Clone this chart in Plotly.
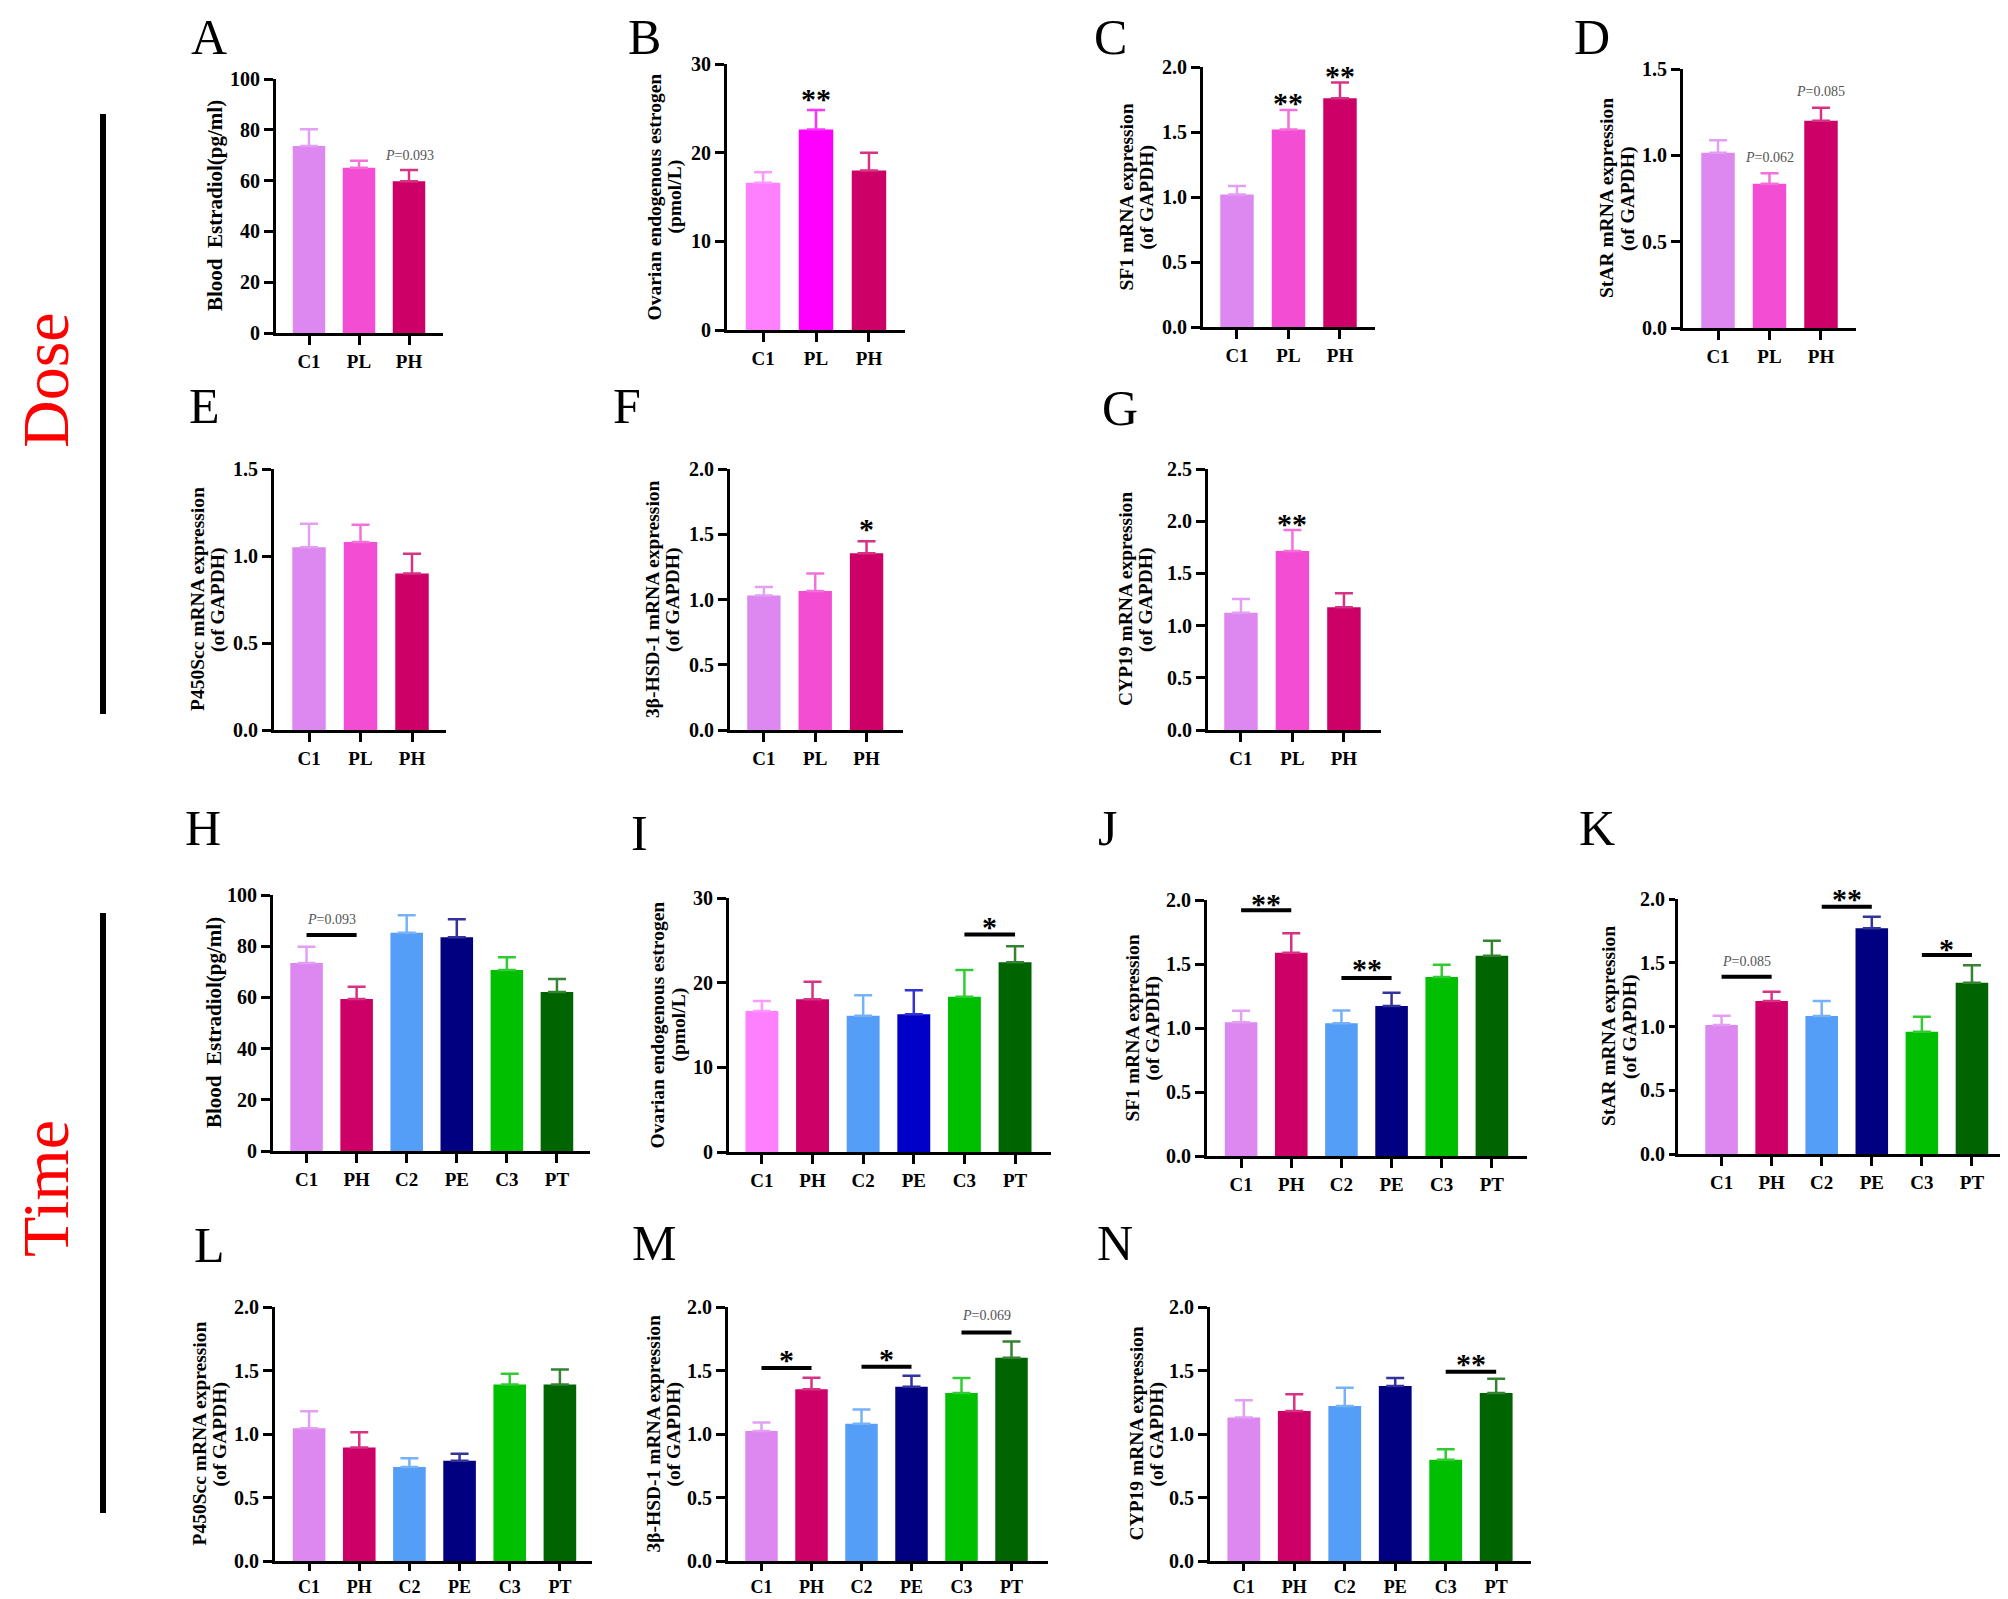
import plotly.graph_objects as go

W, H = 2008, 1599
OFF = 8  # page body margin of the written html, compensated in positioning
FONT = "Liberation Serif"

# ---------------- data ----------------
dose_cats = ["C1", "PL", "PH"]
time_cats = ["C1", "PH", "C2", "PE", "C3", "PT"]

A_mean = [73.6, 65.1, 59.7]
A_err = [6.6, 2.7, 4.5]
B_mean = [16.6, 22.6, 18.0]
B_err = [1.2, 2.2, 2.0]
C_mean = [1.02, 1.52, 1.76]
C_err = [0.065, 0.15, 0.12]
D_mean = [1.015, 0.836, 1.20]
D_err = [0.072, 0.06, 0.076]
E_mean = [1.05, 1.08, 0.90]
E_err = [0.135, 0.10, 0.113]
F_mean = [1.03, 1.065, 1.354]
F_err = [0.066, 0.135, 0.092]
G_mean = [1.124, 1.715, 1.175]
G_err = [0.131, 0.20, 0.134]
H_mean = [73.4, 59.4, 85.3, 83.5, 70.7, 62.1]
H_err = [6.4, 4.8, 6.8, 7.0, 5.0, 5.1]
I_mean = [16.65, 18.03, 16.1, 16.26, 18.35, 22.4]
I_err = [1.18, 2.07, 2.4, 2.84, 3.15, 1.9]
J_mean = [1.045, 1.588, 1.037, 1.172, 1.398, 1.565]
J_err = [0.09, 0.152, 0.10, 0.104, 0.097, 0.117]
K_mean = [1.012, 1.20, 1.082, 1.77, 0.959, 1.344]
K_err = [0.073, 0.073, 0.118, 0.091, 0.118, 0.136]
L_mean = [1.045, 0.893, 0.74, 0.789, 1.39, 1.39]
L_err = [0.135, 0.12, 0.07, 0.055, 0.084, 0.118]
M_mean = [1.023, 1.352, 1.08, 1.372, 1.323, 1.60]
M_err = [0.068, 0.091, 0.113, 0.087, 0.117, 0.129]
N_mean = [1.13, 1.182, 1.221, 1.377, 0.797, 1.323]
N_err = [0.136, 0.131, 0.144, 0.063, 0.083, 0.112]

# significance marks: (from index, to index, line y, label, label y)
A_sig = [(2, 2, None, "<i>P</i>=0.093", 70)]
B_sig = [(1, 1, None, "**", 26.8)]
C_sig = [(1, 1, None, "**", 1.77), (2, 2, None, "**", 1.98)]
D_sig = [(1, 1, None, "<i>P</i>=0.062", 0.99), (2, 2, None, "<i>P</i>=0.085", 1.37)]
E_sig = []
F_sig = [(2, 2, None, "*", 1.59)]
G_sig = [(1, 1, None, "**", 2.04)]
H_sig = [(0, 1, 84.4, "<i>P</i>=0.093", 90.6)]
I_sig = [(4, 5, 25.7, "*", 27.4)]
J_sig = [(0, 1, 1.92, "**", 2.02), (2, 3, 1.39, "**", 1.51)]
K_sig = [(0, 1, 1.39, "<i>P</i>=0.085", 1.51), (2, 3, 1.94, "**", 2.05), (4, 5, 1.56, "*", 1.66)]
L_sig = []
M_sig = [(0, 1, 1.52, "*", 1.63), (2, 3, 1.53, "*", 1.64), (4, 5, 1.80, "<i>P</i>=0.069", 1.93)]
N_sig = [(4, 5, 1.49, "**", 1.60)]

t_blood = ["Blood\u00a0 Estradiol(pg/ml)"]
t_ovar = ["Ovarian endogenous estrogen", "(pmol/L)"]
t_sf1 = ["SF1 mRNA expression", "(of GAPDH)"]
t_star = ["StAR mRNA expression", "(of GAPDH)"]
t_p450 = ["P450Scc mRNA expression", "(of GAPDH)"]
t_hsd = ["3β-HSD-1 mRNA expression", "(of GAPDH)"]
t_cyp = ["CYP19 mRNA expression", "(of GAPDH)"]

# ---------------- styles ----------------
dose_colors = ["#DD88F0", "#F34DD3", "#CC0066"]
B_colors = ["#FF80FF", "#FF00FF", "#CC0066"]
time_colors = ["#DD88F0", "#CC0066", "#559EF7", "#000080", "#00BF00", "#006400"]
I_colors = ["#FF80FF", "#CC0066", "#559EF7", "#0000C8", "#00BF00", "#006400"]


def tint(hexc, f=0.2):
    r, g, b = int(hexc[1:3], 16), int(hexc[3:5], 16), int(hexc[5:7], 16)
    r, g, b = [int(v + (255 - v) * f) for v in (r, g, b)]
    return "#%02X%02X%02X" % (r, g, b)


def PX(px):
    return (px - OFF) / W


def PY(py):
    return 1 - (py - OFF) / H


# letter, cats, mean, err, colors, title, title size, yrange, dtick, fmt, sig,
# box (x0, x1, ytop, ybot in px), xrange, title offset, letter pos (cx, baseline), y ticklen
panels = [
    ("A", dose_cats, A_mean, A_err, dose_colors, t_blood, 21, [0, 100], 20, "d", A_sig,
     (276, 443, 79, 333), [-0.66, 2.68], 61, (209, 54), 9),
    ("B", dose_cats, B_mean, B_err, B_colors, t_ovar, 19.5, [0, 30], 10, "d", B_sig,
     (727, 905, 64, 330), [-0.68, 2.68], 63, (644, 54), 9),
    ("C", dose_cats, C_mean, C_err, dose_colors, t_sf1, 19.5, [0, 2], 0.5, ".1f", C_sig,
     (1203, 1375, 67, 327), [-0.66, 2.68], 67, (1110, 54), 9),
    ("D", dose_cats, D_mean, D_err, dose_colors, t_star, 19.5, [0, 1.5], 0.5, ".1f", D_sig,
     (1683, 1856, 69, 328), [-0.68, 2.68], 66, (1592, 54), 9),
    ("E", dose_cats, E_mean, E_err, dose_colors, t_p450, 19.5, [0, 1.5], 0.5, ".1f", E_sig,
     (274, 446, 469, 730), [-0.68, 2.66], 66, (204, 423), 9),
    ("F", dose_cats, F_mean, F_err, dose_colors, t_hsd, 19.5, [0, 2], 0.5, ".1f", F_sig,
     (730, 903, 469, 730), [-0.66, 2.71], 67, (627, 423), 9),
    ("G", dose_cats, G_mean, G_err, dose_colors, t_cyp, 19.5, [0, 2.5], 0.5, ".1f", G_sig,
     (1208, 1381, 469, 730), [-0.64, 2.72], 72, (1120, 425), 9),
    ("H", time_cats, H_mean, H_err, time_colors, t_blood, 21, [0, 100], 20, "d", H_sig,
     (273, 590, 895, 1151), [-0.67, 5.66], 59, (203, 845), 9),
    ("I", time_cats, I_mean, I_err, I_colors, t_ovar, 19.5, [0, 30], 10, "d", I_sig,
     (729, 1051, 898, 1152), [-0.65, 5.71], 61, (639, 850), 9),
    ("J", time_cats, J_mean, J_err, time_colors, t_sf1, 19.5, [0, 2], 0.5, ".1f", J_sig,
     (1207, 1527, 900, 1156), [-0.68, 5.70], 65, (1107, 845), 9),
    ("K", time_cats, K_mean, K_err, time_colors, t_star, 19.5, [0, 2], 0.5, ".1f", K_sig,
     (1678, 2006, 899, 1154), [-0.87, 5.68], 59, (1597, 845), 6),
    ("L", time_cats, L_mean, L_err, time_colors, t_p450, 19.5, [0, 2], 0.5, ".1f", L_sig,
     (275, 592, 1307, 1561), [-0.68, 5.64], 66, (209, 1262), 9),
    ("M", time_cats, M_mean, M_err, time_colors, t_hsd, 19.5, [0, 2], 0.5, ".1f", M_sig,
     (728, 1048, 1307, 1561), [-0.67, 5.73], 65, (654, 1260), 9),
    ("N", time_cats, N_mean, N_err, time_colors, t_cyp, 19.5, [0, 2], 0.5, ".1f", N_sig,
     (1210, 1531, 1307, 1561), [-0.67, 5.69], 64, (1115, 1260), 9),
]

fig = go.Figure()
layout = dict(
    width=W, height=H, margin=dict(l=0, r=0, t=0, b=0, pad=0, autoexpand=False),
    paper_bgcolor="white", plot_bgcolor="white", showlegend=False,
    barmode="overlay", shapes=[], annotations=[],
)

bold = dict(family=FONT, color="black", weight="bold")

for k, p in enumerate(panels, start=1):
    (letter, cats, mean, err, colors, title, tsize, yr, dtick, fmt, sig,
     box, xr, toff, lpos, yticklen) = p
    sfx = "" if k == 1 else str(k)
    xa, ya = "x" + sfx, "y" + sfx
    x0, x1, yt, yb = box
    bottom_row = yb > 1500
    for cat, m, e, c in zip(cats, mean, err, colors):
        fig.add_trace(go.Bar(
            x=[cat], y=[m], xaxis=xa, yaxis=ya, width=0.65,
            marker=dict(color=c, line=dict(width=0)),
            error_y=dict(type="data", array=[e], arrayminus=[0], symmetric=False,
                         color=tint(c), thickness=2.5, width=9),
            hoverinfo="skip",
        ))
    layout["xaxis" + sfx] = dict(
        domain=[PX(x0), PX(x1)], anchor=ya, type="category",
        categoryorder="array", categoryarray=cats, range=xr, automargin=False,
        showline=True, linecolor="black", linewidth=3,
        ticks="outside", ticklen=7 if bottom_row else 9, tickwidth=3, tickcolor="black",
        tickfont=dict(size=18 if bottom_row else 19, **bold), showgrid=False, zeroline=False,
    )
    layout["yaxis" + sfx] = dict(
        domain=[PY(yb), PY(yt)], anchor=xa, range=yr, automargin=False,
        tick0=0, dtick=dtick, tickformat=fmt,
        showline=True, linecolor="black", linewidth=3,
        ticks="outside", ticklen=yticklen, tickwidth=3, tickcolor="black",
        tickfont=dict(size=20, **bold), showgrid=False, zeroline=False,
    )
    # y-axis title (each line placed separately for tight line spacing)
    nl = len(title)
    for li, line in enumerate(title):
        dx = (li - (nl - 1) / 2) * 21
        layout["annotations"].append(dict(
            xref="paper", yref="paper", x=PX(x0 - toff + dx), y=PY((yt + yb) / 2),
            text=line, textangle=-90, showarrow=False, xanchor="center", yanchor="middle",
            font=dict(size=tsize, **bold),
        ))
    # panel letter
    layout["annotations"].append(dict(
        xref="paper", yref="paper", x=PX(lpos[0]), y=PY(lpos[1] - 17),
        text=letter, showarrow=False, xanchor="center", yanchor="middle",
        font=dict(family=FONT, size=50, color="black"),
    ))

    # significance
    def ypaper(v):
        frac = (v - yr[0]) / (yr[1] - yr[0])
        return PY(yb - frac * (yb - yt))

    for (i0, i1, ly, lab, ty) in sig:
        if ly is not None:
            layout["shapes"].append(dict(
                type="line", xref=xa, yref=ya, x0=i0, x1=i1, y0=ly, y1=ly,
                line=dict(color="black", width=4),
            ))
        is_star = "*" in lab
        layout["annotations"].append(dict(
            xref=xa, yref="paper", x=(i0 + i1) / 2, y=ypaper(ty), text=lab, showarrow=False,
            xanchor="center", yanchor="middle", yshift=-6 if is_star else 0,
            font=dict(family=FONT, size=30 if is_star else 14,
                      color="black" if is_star else "#555555",
                      weight="bold" if is_star else "normal"),
        ))

# group labels and bars
for txt, yc, ys in (("Dose", 380, (114, 714)), ("Time", 1189, (913, 1513))):
    layout["annotations"].append(dict(
        xref="paper", yref="paper", x=PX(45), y=PY(yc), text=txt, textangle=-90,
        showarrow=False, xanchor="center", yanchor="middle",
        font=dict(family=FONT, size=66, color="#FF0000"),
    ))
    layout["shapes"].append(dict(
        type="line", xref="paper", yref="paper", x0=PX(103), x1=PX(103),
        y0=PY(ys[0]), y1=PY(ys[1]), line=dict(color="black", width=6),
    ))

fig.update_layout(**layout)
fig.write_html("out.html")
